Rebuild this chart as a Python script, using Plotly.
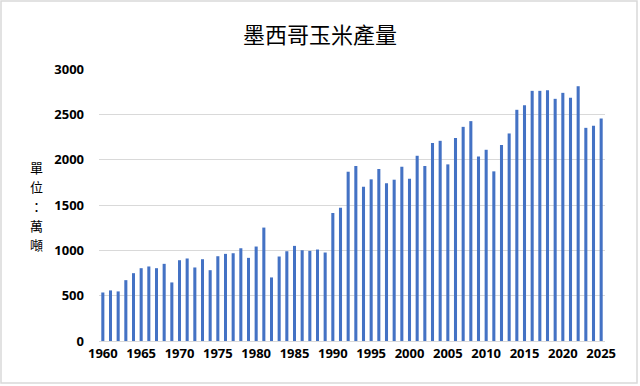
import plotly.graph_objects as go

years = list(range(1960, 2026))
production = [
    535, 558, 547, 671, 748, 803, 822, 803, 851, 646,
    891, 910, 811, 902, 781, 935, 961, 968, 1023, 917,
    1042, 1251, 701, 932, 990, 1049, 1001, 994, 1009, 976,
    1412, 1471, 1867, 1930, 1702, 1783, 1897, 1739, 1779, 1922,
    1790, 2043, 1930, 2183, 2208, 1948, 2238, 2362, 2425, 2036,
    2109, 1871, 2161, 2289, 2550, 2601, 2759, 2759, 2766, 2671,
    2737, 2682, 2810, 2351, 2373, 2454,
]
x_ticks = list(range(1960, 2026, 5))
y_ticks = [0, 500, 1000, 1500, 2000, 2500, 3000]
title_text = "墨西哥玉米產量"
y_title = "單位：萬噸"

fig = go.Figure(go.Bar(x=years, y=production, marker_color="#4472C4",
                       marker_line_width=0))

W, H = 640, 386
L, R, T, B = 99, 35, 69, 45
pw, ph = W - L - R, H - T - B

def px_x(p):
    return (p - L) / pw

def px_y(p):
    return (H - B - p) / ph

char_y = [167, 186.5, 206, 225.5, 245]
annotations = [
    dict(text=ch, xref="paper", yref="paper", x=px_x(36), y=px_y(cy),
         xanchor="center", yanchor="middle", showarrow=False,
         font=dict(family="Noto Sans CJK TC", size=13, color="black"))
    for ch, cy in zip(y_title, char_y)
]

fig.update_layout(
    width=W, height=H,
    margin=dict(l=L, r=R, t=T, b=B),
    paper_bgcolor="white", plot_bgcolor="white",
    bargap=0.6,
    showlegend=False,
    title=dict(text=title_text, x=0.5, xanchor="center", y=1 - 35 / H, yanchor="middle",
               font=dict(family="Noto Sans CJK TC", size=22, color="black")),
    xaxis=dict(range=[1959.5, 2025.5], tickmode="array", tickvals=x_ticks,
               ticktext=[f"<b>{v}</b>" for v in x_ticks], showgrid=False,
               showline=True, linecolor="#d9d9d9", linewidth=1, ticks="",
               tickfont=dict(family="Open Sans", size=13, color="black")),
    yaxis=dict(range=[0, 3000], tickmode="array", tickvals=y_ticks,
               ticktext=[f"<b>{v}</b>" for v in y_ticks], showgrid=True,
               gridcolor="#d9d9d9", gridwidth=1, zeroline=False, ticks="",
               ticklabelstandoff=14,
               tickfont=dict(family="Open Sans", size=13, color="black")),
    annotations=annotations,
    shapes=[dict(type="rect", xref="paper", yref="paper",
                 x0=px_x(1), x1=px_x(637), y0=px_y(383), y1=px_y(1),
                 line=dict(color="#d9d9d9", width=1.5), layer="below")],
)

fig.write_html("out.html", config={"displayModeBar": False},
               post_script="document.body.style.margin='0';document.body.style.padding='0';")
